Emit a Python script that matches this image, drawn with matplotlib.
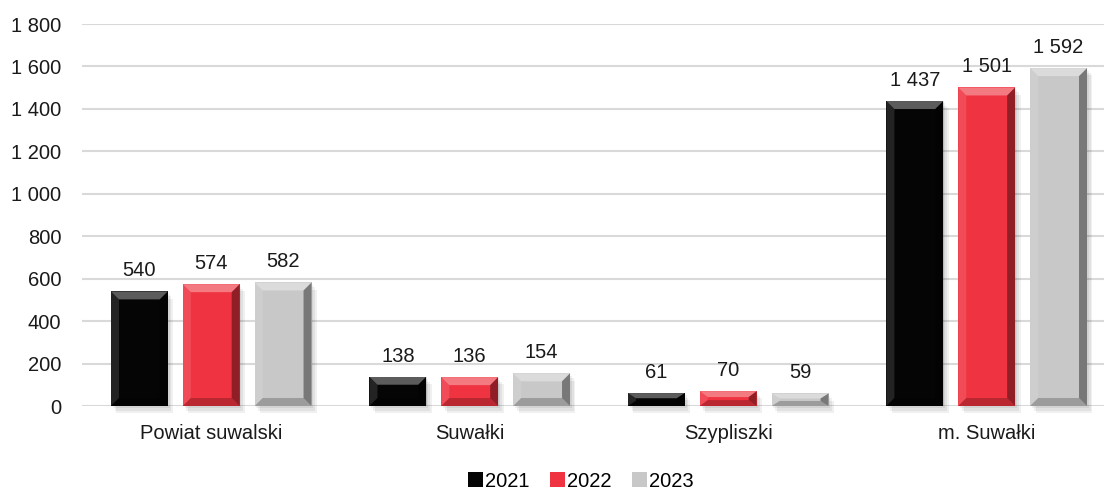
import matplotlib
matplotlib.use('Agg')
import matplotlib.pyplot as plt
from matplotlib.patches import Polygon, Rectangle
import numpy as np

categories = ['Powiat suwalski', 'Suwałki', 'Szypliszki', 'm. Suwałki']
years = ['2021', '2022', '2023']
v2021 = [540, 138, 61, 1437]
v2022 = [574, 136, 70, 1501]
v2023 = [582, 154, 59, 1592]
yticks = [0, 200, 400, 600, 800, 1000, 1200, 1400, 1600, 1800]

colors = ['#050505', '#ef3340', '#c8c8c8']

plt.rcParams['font.family'] = ['Liberation Sans', 'DejaVu Sans']
FS = 14.5

W, H = 1104, 494
fig = plt.figure(figsize=(W / 100, H / 100), dpi=100)
ax = fig.add_axes([82 / W, 1 - 406 / H, (W - 82) / W, (406 - 24) / H])
ax.set_xlim(-0.5, 3.5 - 12 / 259)
ax.set_ylim(0, 1800)

fmt = lambda v: f'{v:,}'.replace(',', ' ')


def bevel(ax, bar):
    x0, y0 = bar.get_x(), bar.get_y()
    x1, y1 = x0 + bar.get_width(), y0 + bar.get_height()
    # bevel size of ~8 px converted to data units
    p0 = ax.transData.transform((0, 0))
    p1 = ax.transData.transform((1, 1))
    bx = 8 / (p1[0] - p0[0])
    by = 8 / (p1[1] - p0[1])
    by = min(by, (y1 - y0) / 2.5)
    pieces = [
        ([(x0, y1), (x1, y1), (x1 - bx, y1 - by), (x0 + bx, y1 - by)], 'white', 0.35),
        ([(x0, y0), (x0, y1), (x0 + bx, y1 - by), (x0 + bx, y0 + by)], 'white', 0.12),
        ([(x1, y0), (x1, y1), (x1 - bx, y1 - by), (x1 - bx, y0 + by)], 'black', 0.4),
        ([(x0, y0), (x1, y0), (x1 - bx, y0 + by), (x0 + bx, y0 + by)], 'black', 0.22),
    ]
    for pts, c, a in pieces:
        ax.add_patch(Polygon(pts, closed=True, facecolor=c, alpha=a, edgecolor='none', zorder=4))
    # soft drop shadow
    sx = 3 / (p1[0] - p0[0])
    sy = 4 / (p1[1] - p0[1])
    for k in range(3):
        ax.add_patch(Rectangle((x0 + sx * (k + 1) * 0.6, y0 - sy * (k + 1) * 0.6), x1 - x0, y1 - y0,
                               facecolor='#000000', alpha=0.06, edgecolor='none', zorder=2,
                               clip_on=False))


x = np.arange(len(categories))
width = 0.22
offset = 0.278
for i, (vals, col, yr) in enumerate(zip([v2021, v2022, v2023], colors, years)):
    bars = ax.bar(x + (i - 1) * offset, vals, width, color=col, label=yr, zorder=3)
    for b, v in zip(bars, vals):
        bevel(ax, b)
        ax.annotate(fmt(v), (b.get_x() + b.get_width() / 2, b.get_height()),
                    xytext=(0, 8), textcoords='offset points', ha='center', va='bottom',
                    fontsize=FS, color='#1a1a1a')

ax.set_yticks(yticks)
ax.set_yticklabels([fmt(t) for t in yticks], fontsize=FS, color='#1a1a1a')
ax.set_xticks(x)
ax.set_xticklabels(categories, fontsize=FS, color='#1a1a1a')
ax.tick_params(axis='both', length=0)
ax.tick_params(axis='y', pad=15)
ax.tick_params(axis='x', pad=13)
ax.yaxis.grid(True, color='#d9d9d9', linewidth=1.5, zorder=0)
ax.set_axisbelow(True)
for s in ax.spines.values():
    s.set_visible(False)

leg = fig.legend(loc='lower center', bbox_to_anchor=(0.526, -0.03), ncol=3, frameon=False,
                 fontsize=FS, handlelength=0.75, handleheight=0.75, handletextpad=0.1,
                 columnspacing=1.0)

fig.savefig('out.png', dpi=100)
